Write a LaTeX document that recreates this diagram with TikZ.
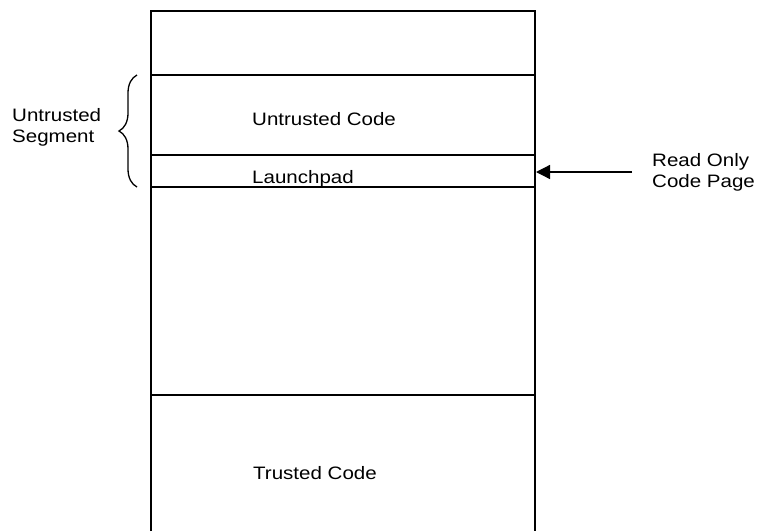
\documentclass[tikz,border=0pt]{standalone}
\usepackage{fontspec}
\setmainfont{Liberation Sans}[FakeStretch=1.14]
\usetikzlibrary{arrows.meta,decorations.pathreplacing}
\begin{document}
\begin{tikzpicture}[x=1pt,y=-1pt,
  wall/.style={line width=1.5pt},
  label/.style={inner sep=0pt,anchor=base west,align=left,
    font=\fontsize{18}{21}\selectfont},
  pointer/.style={line width=1.3pt,-{Triangle[length=14pt,width=14pt]}},
  segbrace/.style={line width=1.3pt,decorate,
    decoration={brace,amplitude=18pt,aspect=0.5}}]
\useasboundingbox (0,0) rectangle (759,531);

% memory column: open at the bottom
\coordinate (bl) at (151,531);
\coordinate (tl) at (151,11);
\coordinate (tr) at (535,11);
\coordinate (br) at (535,531);
\draw[wall] (bl) -- (tl) -- (tr) -- (br);

% region boundaries
\foreach \y/\n in {75/a,155/b,187/c,395/d}{
  \coordinate (\n L) at (151,\y);
  \coordinate (\n R) at (535,\y);
  \draw[wall] (\n L) -- (\n R);
}

% region labels
\node[label] (untrusted) at (252,125) {Untrusted Code};
\node[label] (launch) at (252,183.5) {Launchpad};
\node[label] (trusted) at (253,479) {Trusted Code};

% brace spanning the untrusted segment, tip to the left
\coordinate (braceTop) at (137,75);
\coordinate (braceBot) at (137,187);
\draw[segbrace] (braceBot) -- (braceTop);
\node[label] (segment) at (12,142.7) {Untrusted\\Segment};

% read-only page pointer
\node[label] (ro) at (652,187.5) {Read Only\\Code Page};
\coordinate (arrowStart) at (632,172);
\coordinate (arrowEnd) at (536,172);
\draw[pointer] (arrowStart) -- (arrowEnd);
\end{tikzpicture}
\end{document}
